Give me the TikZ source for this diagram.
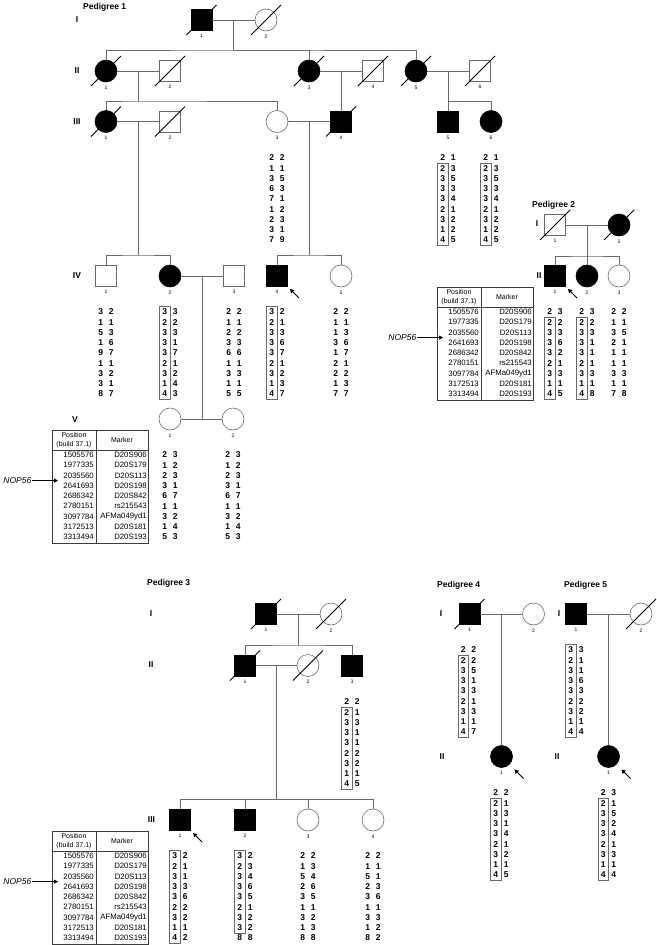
\documentclass[tikz,border=0pt]{standalone}
\usepackage{fontspec}
\setmainfont{Liberation Sans}
\usetikzlibrary{calc,fit,arrows.meta}
\definecolor{linegray}{RGB}{105,105,105}
\definecolor{tabline}{RGB}{60,60,60}

\tikzset{
  male/.style={rectangle, draw=linegray, line width=0.6pt, fill=white, minimum size=21pt, inner sep=0pt, label distance=0pt},
  female/.style={circle, draw=linegray, line width=0.6pt, fill=white, minimum size=22pt, inner sep=0pt, label distance=0pt},
  aff/.style={fill=black, draw=black},
  idn/.style={font=\fontsize{5}{5}\selectfont, inner sep=0pt, yshift=-3.2pt},
  gen/.style={font=\fontsize{8.5}{8.5}\selectfont\bfseries, inner sep=0pt},
  title/.style={font=\fontsize{8.5}{8.5}\selectfont\bfseries, anchor=west, inner sep=0pt},
  allele/.style={font=\fontsize{8.5}{8.5}\selectfont\bfseries, inner sep=0pt, minimum width=10.5pt, minimum height=10.25pt},
  hapbox/.style={draw=linegray, line width=0.6pt, inner sep=0pt},
  ped/.style={draw=linegray, line width=0.6pt},
  slash/.style={draw=black, line width=0.8pt},
  probarrow/.style={-{Triangle[length=4pt,width=4.5pt]}, line width=1pt},
  tab/.style={draw=tabline, line width=0.8pt},
  cell/.style={font=\fontsize{7.8}{7.8}\selectfont, inner sep=0pt, anchor=east},
  headcell/.style={font=\fontsize{7}{9}\selectfont, align=center, inner sep=0pt},
  gene/.style={font=\fontsize{8.5}{8.5}\selectfont\itshape, anchor=east, inner sep=0.5pt},
  geneptr/.style={-{Triangle[length=4pt,width=4pt]}, line width=0.8pt},
}

% slash for deceased
\newcommand{\deceased}[1]{\draw[slash] ([shift={(-15,15)}]#1.center) -- ([shift={(15,-15)}]#1.center);}
% arrow for proband
\newcommand{\markproband}[1]{\draw[probarrow] ([shift={(22,22)}]#1.center) -- ([shift={(13,13)}]#1.center);}
% haplotype: name, centre x, first row y, allele pairs
\newcommand{\haplo}[4]{%
  \foreach \al/\ar [count=\row] in {#4} {
    \node[allele] (#1a\row) at (#2-5.25,#3+\row*10.25-10.25) {\al};
    \node[allele] (#1b\row) at (#2+5.25,#3+\row*10.25-10.25) {\ar};
  }}
% marker table: name, left x, top y
\newcommand{\markertable}[3]{%
  \draw[tab] (#2,#3) rectangle (#2+96,#3+113);
  \draw[tab] (#2,#3+20) -- (#2+96,#3+20);
  \draw[tab] (#2+44,#3) -- (#2+44,#3+113);
  \node[headcell] (#1pos) at (#2+22,#3+10) {Position\\(build 37.1)};
  \node[headcell] (#1mk) at (#2+70,#3+10) {Marker};
  \foreach \pos/\mk [count=\row from 0] in {1505576/D20S906, 1977335/D20S179, 2035560/D20S113, 2641693/D20S198, 2686342/D20S842, 2780151/rs215543, 3097784/AFMa049yd1, 3172513/D20S181, 3313494/D20S193} {
    \node[cell] (#1p\row) at (#2+42,#3+25+\row*10.25) {\pos};
    \node[cell] (#1m\row) at (#2+95,#3+25+\row*10.25) {\mk};
  }
  \coordinate (#1in) at (#2+6,#3+50.6);
  \node[gene] (#1nop) at (#2-20,#3+50.6) {NOP56};
  \draw[geneptr] (#1nop) -- (#1in);
}

\begin{document}
\begin{tikzpicture}[x=1pt,y=-1pt]
\path[use as bounding box, fill=white] (0,0) rectangle (656,945);

% ---------------- Pedigree 1 ----------------
\node[title] (ttl1) at (83,7) {Pedigree 1};
\node[gen] (p1gI) at (77,20) {I};
\node[gen] (p1gII) at (77,71) {II};
\node[gen] (p1gIII) at (77,121.5) {III};
\node[gen] (p1gIV) at (77,276) {IV};
\node[gen] (p1gV) at (75,420) {V};

\node[male, aff, label={[idn]below:1}] (p1I1) at (201.5,20) {};
\node[female, label={[idn]below:2}] (p1I2) at (266,20) {};
\node[female, aff, label={[idn]below:1}] (p1II1) at (106,71) {};
\node[male, label={[idn]below:2}] (p1II2) at (170,71) {};
\node[female, aff, label={[idn]below:3}] (p1II3) at (309,71) {};
\node[male, label={[idn]below:4}] (p1II4) at (373,71) {};
\node[female, aff, label={[idn]below:5}] (p1II5) at (416,71) {};
\node[male, label={[idn]below:6}] (p1II6) at (480,71) {};
\node[female, aff, label={[idn]below:1}] (p1III1) at (106,121.5) {};
\node[male, label={[idn]below:2}] (p1III2) at (170,121.5) {};
\node[female, label={[idn]below:3}] (p1III3) at (277,121.5) {};
\node[male, aff, label={[idn]below:4}] (p1III4) at (341,121.5) {};
\node[male, aff, label={[idn]below:5}] (p1III5) at (448,121.5) {};
\node[female, aff, label={[idn]below:6}] (p1III6) at (491,121.5) {};
\node[male, label={[idn]below:1}] (p1IV1) at (106,276) {};
\node[female, aff, label={[idn]below:2}] (p1IV2) at (170,276) {};
\node[male, label={[idn]below:3}] (p1IV3) at (234,276) {};
\node[male, aff, label={[idn]below:4}] (p1IV4) at (277,276) {};
\node[female, label={[idn]below:5}] (p1IV5) at (341,276) {};
\node[female, label={[idn]below:1}] (p1V1) at (170,419) {};
\node[female, label={[idn]below:2}] (p1V2) at (233,419) {};

% couples and sibships
\draw[ped] (p1I1) -- (p1I2);
\coordinate (p1m1) at ($(p1I1)!0.5!(p1I2)$);
\coordinate (p1s1) at (p1m1 |- 0,50);
\draw[ped] (p1m1) -- (p1s1);
\draw[ped] (p1II1) |- (p1s1) -| (p1II5);
\draw[ped] (p1s1) -| (p1II3);

\draw[ped] (p1II1) -- (p1II2);
\coordinate (p1m2) at ($(p1II1)!0.5!(p1II2)$);
\coordinate (p1s2) at (p1m2 |- 0,101);
\draw[ped] (p1m2) -- (p1s2);
\draw[ped] (p1III1) |- (p1s2) -| (p1III3);

\draw[ped] (p1II3) -- (p1II4);
\coordinate (p1m3) at ($(p1II3)!0.5!(p1II4)$);
\draw[ped] (p1m3) -- (p1III4);

\draw[ped] (p1II5) -- (p1II6);
\coordinate (p1m4) at ($(p1II5)!0.5!(p1II6)$);
\coordinate (p1s3) at (p1m4 |- 0,101);
\draw[ped] (p1m4) -- (p1III5);
\draw[ped] (p1s3) -| (p1III6);

\draw[ped] (p1III1) -- (p1III2);
\coordinate (p1m5) at ($(p1III1)!0.5!(p1III2)$);
\coordinate (p1s4) at (p1m5 |- 0,255);
\draw[ped] (p1m5) -- (p1s4);
\draw[ped] (p1IV1) |- (p1s4) -| (p1IV2);

\draw[ped] (p1III3) -- (p1III4);
\coordinate (p1m6) at ($(p1III3)!0.5!(p1III4)$);
\coordinate (p1s5) at (p1m6 |- 0,255);
\draw[ped] (p1m6) -- (p1s5);
\draw[ped] (p1IV4) |- (p1s5) -| (p1IV5);

\draw[ped] (p1IV2) -- (p1IV3);
\coordinate (p1m7) at ($(p1IV2)!0.5!(p1IV3)$);
\coordinate (p1s6) at (p1m7 |- p1V1);
\draw[ped] (p1m7) -- (p1s6);
\draw[ped] (p1V1) -- (p1V2);

\deceased{p1I1} \deceased{p1I2}
\deceased{p1II1} \deceased{p1II2} \deceased{p1II3} \deceased{p1II4} \deceased{p1II5} \deceased{p1II6}
\deceased{p1III1} \deceased{p1III2} \deceased{p1III4}
\markproband{p1IV4}

% haplotypes
\haplo{p1h33}{277}{158}{2/2,1/1,3/5,6/3,7/1,1/2,2/3,3/1,7/9}
\haplo{p1h35}{448}{158}{2/1,2/3,3/5,3/3,3/4,2/1,3/2,1/2,4/5}
\haplo{p1h36}{491}{158}{2/1,2/3,3/5,3/3,3/4,2/1,3/2,1/2,4/5}
\node[hapbox, fit=(p1h35a2)(p1h35a9)] (p1b35) {};
\node[hapbox, fit=(p1h36a2)(p1h36a9)] (p1b36) {};
\haplo{p1h41}{106}{312}{3/2,1/1,5/3,1/6,9/7,1/1,3/2,3/1,8/7}
\haplo{p1h42}{170}{312}{3/3,2/2,3/3,3/1,3/7,2/1,3/2,1/4,4/3}
\haplo{p1h43}{234}{312}{2/2,1/1,2/2,3/3,6/6,1/1,3/3,1/1,5/5}
\haplo{p1h44}{277}{312}{3/2,2/1,3/3,3/6,3/7,2/1,3/2,1/3,4/7}
\haplo{p1h45}{341}{312}{2/2,1/1,1/3,3/6,1/7,2/1,2/2,1/3,7/7}
\node[hapbox, fit=(p1h42a1)(p1h42a9)] (p1b42) {};
\node[hapbox, fit=(p1h44a1)(p1h44a9)] (p1b44) {};
\haplo{p1h51}{170}{455}{2/3,1/2,2/3,3/1,6/7,1/1,3/2,1/4,5/3}
\haplo{p1h52}{233}{455}{2/3,1/2,2/3,3/1,6/7,1/1,3/2,1/4,5/3}
\markertable{tb1}{52}{430}

% ---------------- Pedigree 2 ----------------
\node[title] (ttl2) at (532,205.5) {Pedigree 2};
\node[gen] (p2gI) at (537,224) {I};
\node[gen] (p2gII) at (539,276) {II};

\node[male, label={[idn]below:1}] (p2I1) at (555,225) {};
\node[female, aff, label={[idn]below:2}] (p2I2) at (619,225) {};
\node[male, aff, label={[idn]below:1}] (p2II1) at (555,276) {};
\node[female, aff, label={[idn]below:2}] (p2II2) at (587,276) {};
\node[female, label={[idn]below:3}] (p2II3) at (619,276) {};

\draw[ped] (p2I1) -- (p2I2);
\coordinate (p2m1) at ($(p2I1)!0.5!(p2I2)$);
\coordinate (p2s1) at (p2m1 |- 0,256);
\draw[ped] (p2m1) -- (p2s1);
\draw[ped] (p2II1) |- (p2s1) -| (p2II3);
\draw[ped] (p2s1) -- (p2II2);
\deceased{p2I1} \deceased{p2I2}
\markproband{p2II1}

\haplo{p2h21}{555}{312}{2/3,2/2,3/3,3/6,3/2,2/1,3/3,1/1,4/5}
\haplo{p2h22}{587}{312}{2/3,2/2,3/3,3/1,3/1,2/1,3/3,1/1,4/8}
\haplo{p2h23}{619}{312}{2/2,1/1,3/5,2/1,1/1,1/1,3/3,1/1,7/8}
\node[hapbox, fit=(p2h21a2)(p2h21a9)] (p2b21) {};
\node[hapbox, fit=(p2h22a2)(p2h22a9)] (p2b22) {};
\markertable{tb2}{437}{287}

% ---------------- Pedigree 3 ----------------
\node[title] (ttl3) at (147,583) {Pedigree 3};
\node[gen] (p3gI) at (151,614) {I};
\node[gen] (p3gII) at (151,665) {II};
\node[gen] (p3gIII) at (151.5,820) {III};

\node[male, aff, label={[idn]below:1}] (p3I1) at (266,614) {};
\node[female, label={[idn]below:2}] (p3I2) at (331,614) {};
\node[male, aff, label={[idn]below:1}] (p3II1) at (245,665.5) {};
\node[female, label={[idn]below:2}] (p3II2) at (308,665.5) {};
\node[male, aff, label={[idn]below:3}] (p3II3) at (352,665.5) {};
\node[male, aff, label={[idn]below:1}] (p3III1) at (180,820) {};
\node[male, aff, label={[idn]below:2}] (p3III2) at (245,820) {};
\node[female, label={[idn]below:3}] (p3III3) at (308,820) {};
\node[female, label={[idn]below:4}] (p3III4) at (373,820) {};

\draw[ped] (p3I1) -- (p3I2);
\coordinate (p3m1) at ($(p3I1)!0.5!(p3I2)$);
\coordinate (p3s1) at (p3m1 |- 0,645);
\draw[ped] (p3m1) -- (p3s1);
\draw[ped] (p3II1) |- (p3s1) -| (p3II3);

\draw[ped] (p3II1) -- (p3II2);
\coordinate (p3m2) at ($(p3II1)!0.5!(p3II2)$);
\coordinate (p3s2) at (p3m2 |- 0,799);
\draw[ped] (p3m2) -- (p3s2);
\draw[ped] (p3III1) |- (p3s2) -| (p3III4);
\draw[ped] (p3s2) -| (p3III2);
\draw[ped] (p3s2) -| (p3III3);
\deceased{p3I1} \deceased{p3I2} \deceased{p3II1} \deceased{p3II2}
\markproband{p3III1}

\haplo{p3h23}{352}{702}{2/2,2/1,3/3,3/1,3/1,2/2,3/2,1/1,4/5}
\node[hapbox, fit=(p3h23a2)(p3h23a9)] (p3b23) {};
\haplo{p3h31}{180}{856}{3/2,2/1,3/1,3/3,3/6,2/2,3/2,1/1,4/2}
\haplo{p3h32}{245}{856}{3/2,2/3,3/4,3/6,3/5,2/1,3/2,3/2,8/8}
\haplo{p3h33}{308}{856}{2/2,1/3,5/4,2/6,3/5,1/1,3/2,1/3,8/8}
\haplo{p3h34}{373}{856}{2/2,1/1,5/1,2/3,3/6,1/1,3/3,1/2,8/2}
\node[hapbox, fit=(p3h31a1)(p3h31a9)] (p3b31) {};
\node[hapbox, fit=(p3h32a1)(p3h32a8)] (p3b32) {};
\markertable{tb3}{52}{831}

% ---------------- Pedigree 4 ----------------
\node[title] (ttl4) at (437,585) {Pedigree 4};
\node[gen] (p4gI) at (441,614) {I};
\node[gen] (p4gII) at (442,757) {II};

\node[male, aff, label={[idn]below:1}] (p4I1) at (469.5,614) {};
\node[female, label={[idn]below:2}] (p4I2) at (533.5,614) {};
\node[female, aff, label={[idn]below:1}] (p4II1) at (501.5,756.5) {};
\draw[ped] (p4I1) -- (p4I2);
\coordinate (p4m1) at ($(p4I1)!0.5!(p4I2)$);
\draw[ped] (p4m1) -- (p4II1);
\deceased{p4I1}
\markproband{p4II1}

\haplo{p4h11}{468.5}{650}{2/2,2/2,3/5,3/1,3/3,2/1,3/3,1/1,4/7}
\haplo{p4h21}{501}{793}{2/2,2/1,3/3,3/1,3/4,2/1,3/2,1/1,4/5}
\node[hapbox, fit=(p4h11a2)(p4h11a9)] (p4b11) {};
\node[hapbox, fit=(p4h21a2)(p4h21a9)] (p4b21) {};

% ---------------- Pedigree 5 ----------------
\node[title] (ttl5) at (564,585) {Pedigree 5};
\node[gen] (p5gI) at (559,614) {I};
\node[gen] (p5gII) at (557,757) {II};

\node[male, aff, label={[idn]below:1}] (p5I1) at (576,614) {};
\node[female, label={[idn]below:2}] (p5I2) at (641,614) {};
\node[female, aff, label={[idn]below:1}] (p5II1) at (608.5,756.5) {};
\draw[ped] (p5I1) -- (p5I2);
\coordinate (p5m1) at ($(p5I1)!0.5!(p5I2)$);
\draw[ped] (p5m1) -- (p5II1);
\deceased{p5I2}
\markproband{p5II1}

\haplo{p5h11}{576}{650}{3/3,2/1,3/1,3/6,3/3,2/2,3/2,1/1,4/4}
\haplo{p5h21}{608.5}{793}{2/3,2/1,3/5,3/2,3/4,2/1,3/3,1/1,4/4}
\node[hapbox, fit=(p5h11a1)(p5h11a9)] (p5b11) {};
\node[hapbox, fit=(p5h21a2)(p5h21a9)] (p5b21) {};
\end{tikzpicture}
\end{document}
